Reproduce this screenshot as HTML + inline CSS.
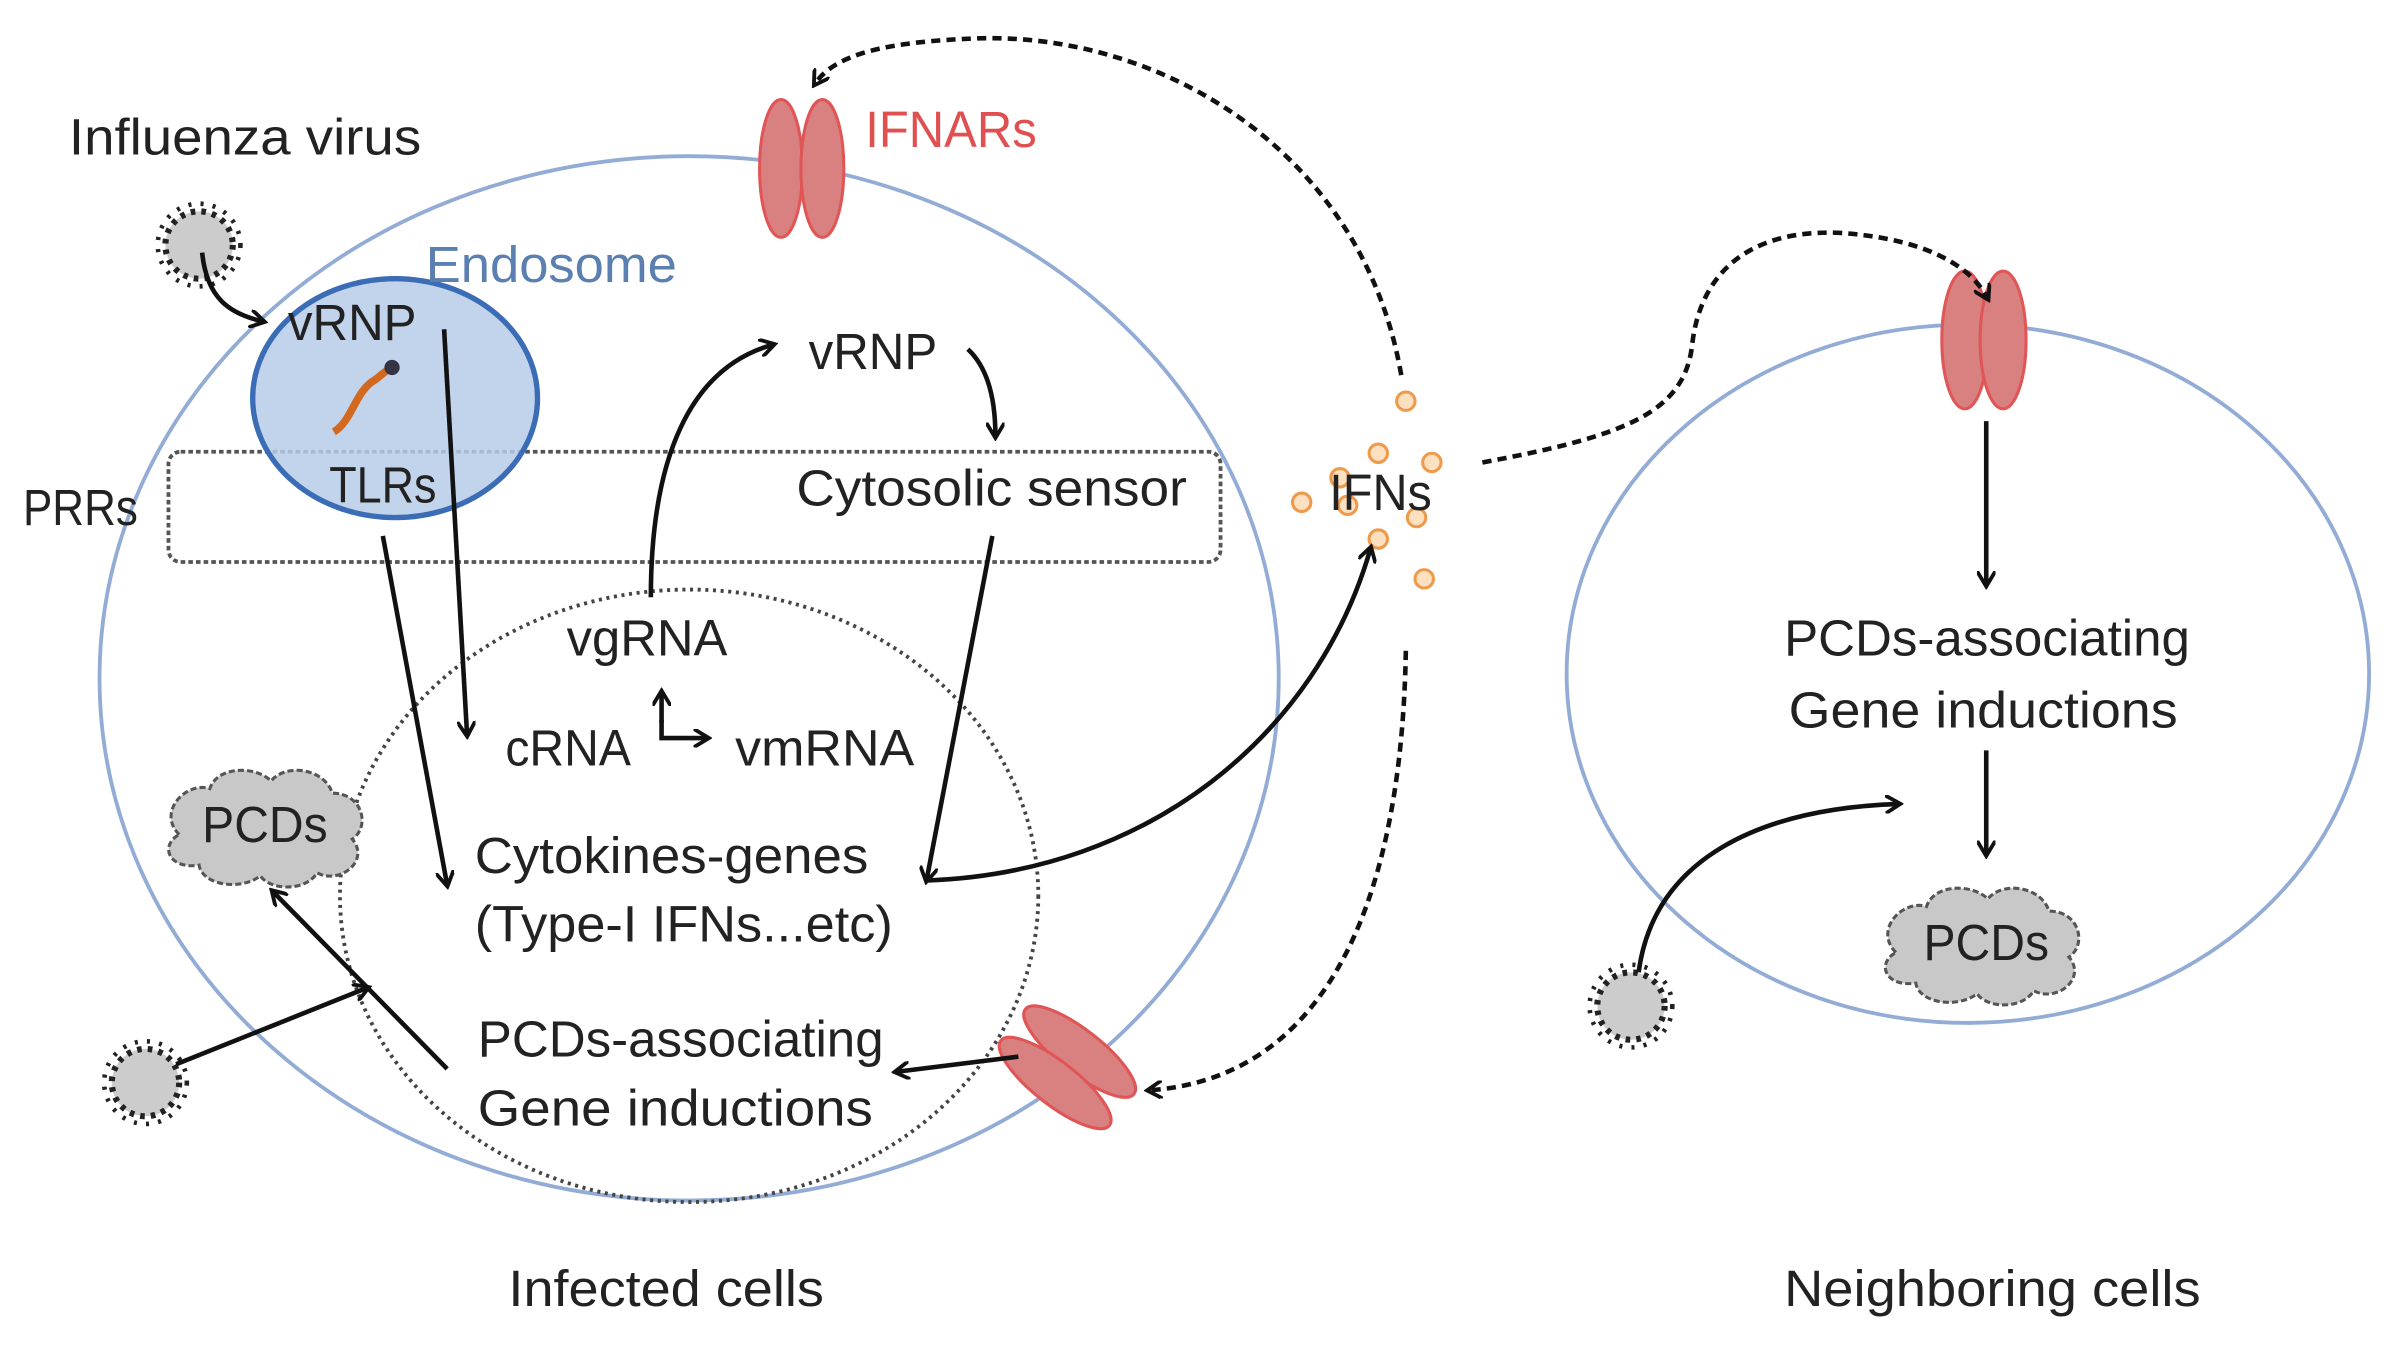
<!DOCTYPE html>
<html><head><meta charset="utf-8"><style>
html,body{margin:0;padding:0;background:#fff;}
svg{display:block;}
text{font-family:"Liberation Sans",sans-serif;font-size:33px;fill:#222;}
</style></head><body>
<svg width="2389" height="1346" viewBox="0 0 1560 879" preserveAspectRatio="none" xmlns="http://www.w3.org/2000/svg">
<defs>
<marker id="a" markerWidth="12" markerHeight="12" refX="9" refY="6" orient="auto" markerUnits="userSpaceOnUse"><path d="M0,0 L10,6 L0,12" fill="none" stroke="#111" stroke-width="2.5"/></marker>
<g id="virus"><circle r="22" fill="#ccc" stroke="#222" stroke-width="4" stroke-dasharray="3 4"/><circle r="27" fill="none" stroke="#222" stroke-width="3" stroke-dasharray="2 6"/></g>
<g id="cloud"><path d="M-55,5 C-70,-10 -50,-30 -35,-25 C-30,-40 -5,-40 5,-30 C15,-42 40,-38 45,-22 C65,-22 70,0 58,8 C70,22 50,38 35,30 C28,42 5,42 -2,32 C-15,42 -40,38 -42,25 C-62,28 -68,12 -55,5 Z" fill="#c8c8c8" stroke="#555" stroke-width="2" stroke-dasharray="4 2"/></g>
</defs>
<ellipse cx="450" cy="443" rx="385" ry="341" fill="none" stroke="#93acd6" stroke-width="2.5"/>
<ellipse cx="450" cy="585" rx="228" ry="200" fill="none" stroke="#444" stroke-width="2.5" stroke-dasharray="2 3"/>
<rect x="110" y="295" width="687" height="72" rx="8" fill="none" stroke="#555" stroke-width="2.5" stroke-dasharray="3 2"/>
<ellipse cx="258" cy="260" rx="93" ry="78" fill="#b7cde8" fill-opacity="0.85" stroke="#3a6db5" stroke-width="3.5"/>
<path d="M218,282 C230,275 232,255 245,248 L255,240" stroke="#d2691e" stroke-width="5" fill="none"/>
<circle cx="256" cy="240" r="5" fill="#334"/>
<ellipse cx="510" cy="110" rx="14" ry="45" fill="#d98080" stroke="#e05555" stroke-width="2"/>
<ellipse cx="537" cy="110" rx="14" ry="45" fill="#d98080" stroke="#e05555" stroke-width="2"/>
<g transform="translate(697,697) rotate(38)">
<ellipse cx="0" cy="-13" rx="45" ry="14" fill="#d98080" stroke="#e05555" stroke-width="2"/>
<ellipse cx="0" cy="13" rx="45" ry="14" fill="#d98080" stroke="#e05555" stroke-width="2"/>
</g>
<ellipse cx="1285" cy="440" rx="262" ry="228" fill="none" stroke="#93acd6" stroke-width="2.5"/>
<ellipse cx="1283" cy="222" rx="15" ry="45" fill="#d98080" stroke="#e05555" stroke-width="2"/>
<ellipse cx="1308" cy="222" rx="15" ry="45" fill="#d98080" stroke="#e05555" stroke-width="2"/>
<use href="#virus" x="130" y="160"/>
<use href="#virus" x="95" y="707"/>
<use href="#virus" x="1065" y="657"/>
<use href="#cloud" x="172" y="540"/>
<use href="#cloud" x="1293" y="617"/>
<g fill="#fde0c0" stroke="#ee9a4a" stroke-width="2">
<circle cx="918" cy="262" r="6"/><circle cx="900" cy="296" r="6"/><circle cx="935" cy="302" r="6"/><circle cx="875" cy="312" r="6"/><circle cx="850" cy="328" r="6"/><circle cx="880" cy="330" r="6"/><circle cx="925" cy="338" r="6"/><circle cx="900" cy="352" r="6"/><circle cx="930" cy="378" r="6"/>
</g>
<g fill="none" stroke="#111" stroke-width="3" marker-end="url(#a)">
<path d="M132,165 C135,195 150,205 172,210"/>
<path d="M290,215 L305,480"/>
<path d="M250,350 L292,578"/>
<path d="M425,390 C425,300 450,240 505,225"/>
<path d="M632,228 C645,240 650,260 650,285"/>
<path d="M648,350 L605,575"/>
<path d="M605,575 C750,570 860,480 895,358"/>
<path d="M432,470 L432,482 L462,482"/>
<path d="M292,698 L178,582"/>
<path d="M115,695 L240,645"/>
<path d="M665,690 L585,700"/>
<path d="M1297,275 L1297,382"/>
<path d="M1297,490 L1297,558"/>
<path d="M1070,635 C1080,560 1150,528 1240,525"/>
<path d="M432,472 L432,452"/>
</g>
<g fill="none" stroke="#111" stroke-width="3" stroke-dasharray="6 4" marker-end="url(#a)">
<path d="M915,245 C890,100 760,22 640,25 C580,27 545,35 532,55"/>
<path d="M918,425 C915,600 860,705 750,712"/>
<path d="M968,302 C1060,285 1100,270 1105,225 C1110,180 1140,150 1200,152 C1250,155 1285,170 1298,195"/>
</g>
<g lengthAdjust="spacingAndGlyphs">
<text x="45" y="101" textLength="230" lengthAdjust="spacingAndGlyphs">Influenza virus</text>
<text x="278" y="184" textLength="164" lengthAdjust="spacingAndGlyphs" style="fill:#5b7fb0">Endosome</text>
<text x="565" y="96" textLength="112" lengthAdjust="spacingAndGlyphs" style="fill:#e05050">IFNARs</text>
<text x="188" y="222" textLength="84" lengthAdjust="spacingAndGlyphs">vRNP</text>
<text x="215" y="328" textLength="70" lengthAdjust="spacingAndGlyphs">TLRs</text>
<text x="15" y="343" textLength="75" lengthAdjust="spacingAndGlyphs">PRRs</text>
<text x="520" y="330" textLength="255" lengthAdjust="spacingAndGlyphs">Cytosolic sensor</text>
<text x="528" y="241" textLength="84" lengthAdjust="spacingAndGlyphs">vRNP</text>
<text x="370" y="428" textLength="105" lengthAdjust="spacingAndGlyphs">vgRNA</text>
<text x="330" y="500" textLength="82" lengthAdjust="spacingAndGlyphs">cRNA</text>
<text x="480" y="500" textLength="117" lengthAdjust="spacingAndGlyphs">vmRNA</text>
<text x="310" y="570" textLength="257" lengthAdjust="spacingAndGlyphs">Cytokines-genes</text>
<text x="310" y="615" textLength="273" lengthAdjust="spacingAndGlyphs">(Type-I IFNs...etc)</text>
<text x="312" y="690" textLength="265" lengthAdjust="spacingAndGlyphs">PCDs-associating</text>
<text x="312" y="735" textLength="258" lengthAdjust="spacingAndGlyphs">Gene inductions</text>
<text x="132" y="550" textLength="82" lengthAdjust="spacingAndGlyphs">PCDs</text>
<text x="868" y="333" textLength="67" lengthAdjust="spacingAndGlyphs">IFNs</text>
<text x="332" y="853" textLength="206" lengthAdjust="spacingAndGlyphs">Infected cells</text>
<text x="1165" y="428" textLength="265" lengthAdjust="spacingAndGlyphs">PCDs-associating</text>
<text x="1168" y="475" textLength="254" lengthAdjust="spacingAndGlyphs">Gene inductions</text>
<text x="1256" y="627" textLength="82" lengthAdjust="spacingAndGlyphs">PCDs</text>
<text x="1165" y="853" textLength="272" lengthAdjust="spacingAndGlyphs">Neighboring cells</text>
</g>
</svg>
</body></html>
